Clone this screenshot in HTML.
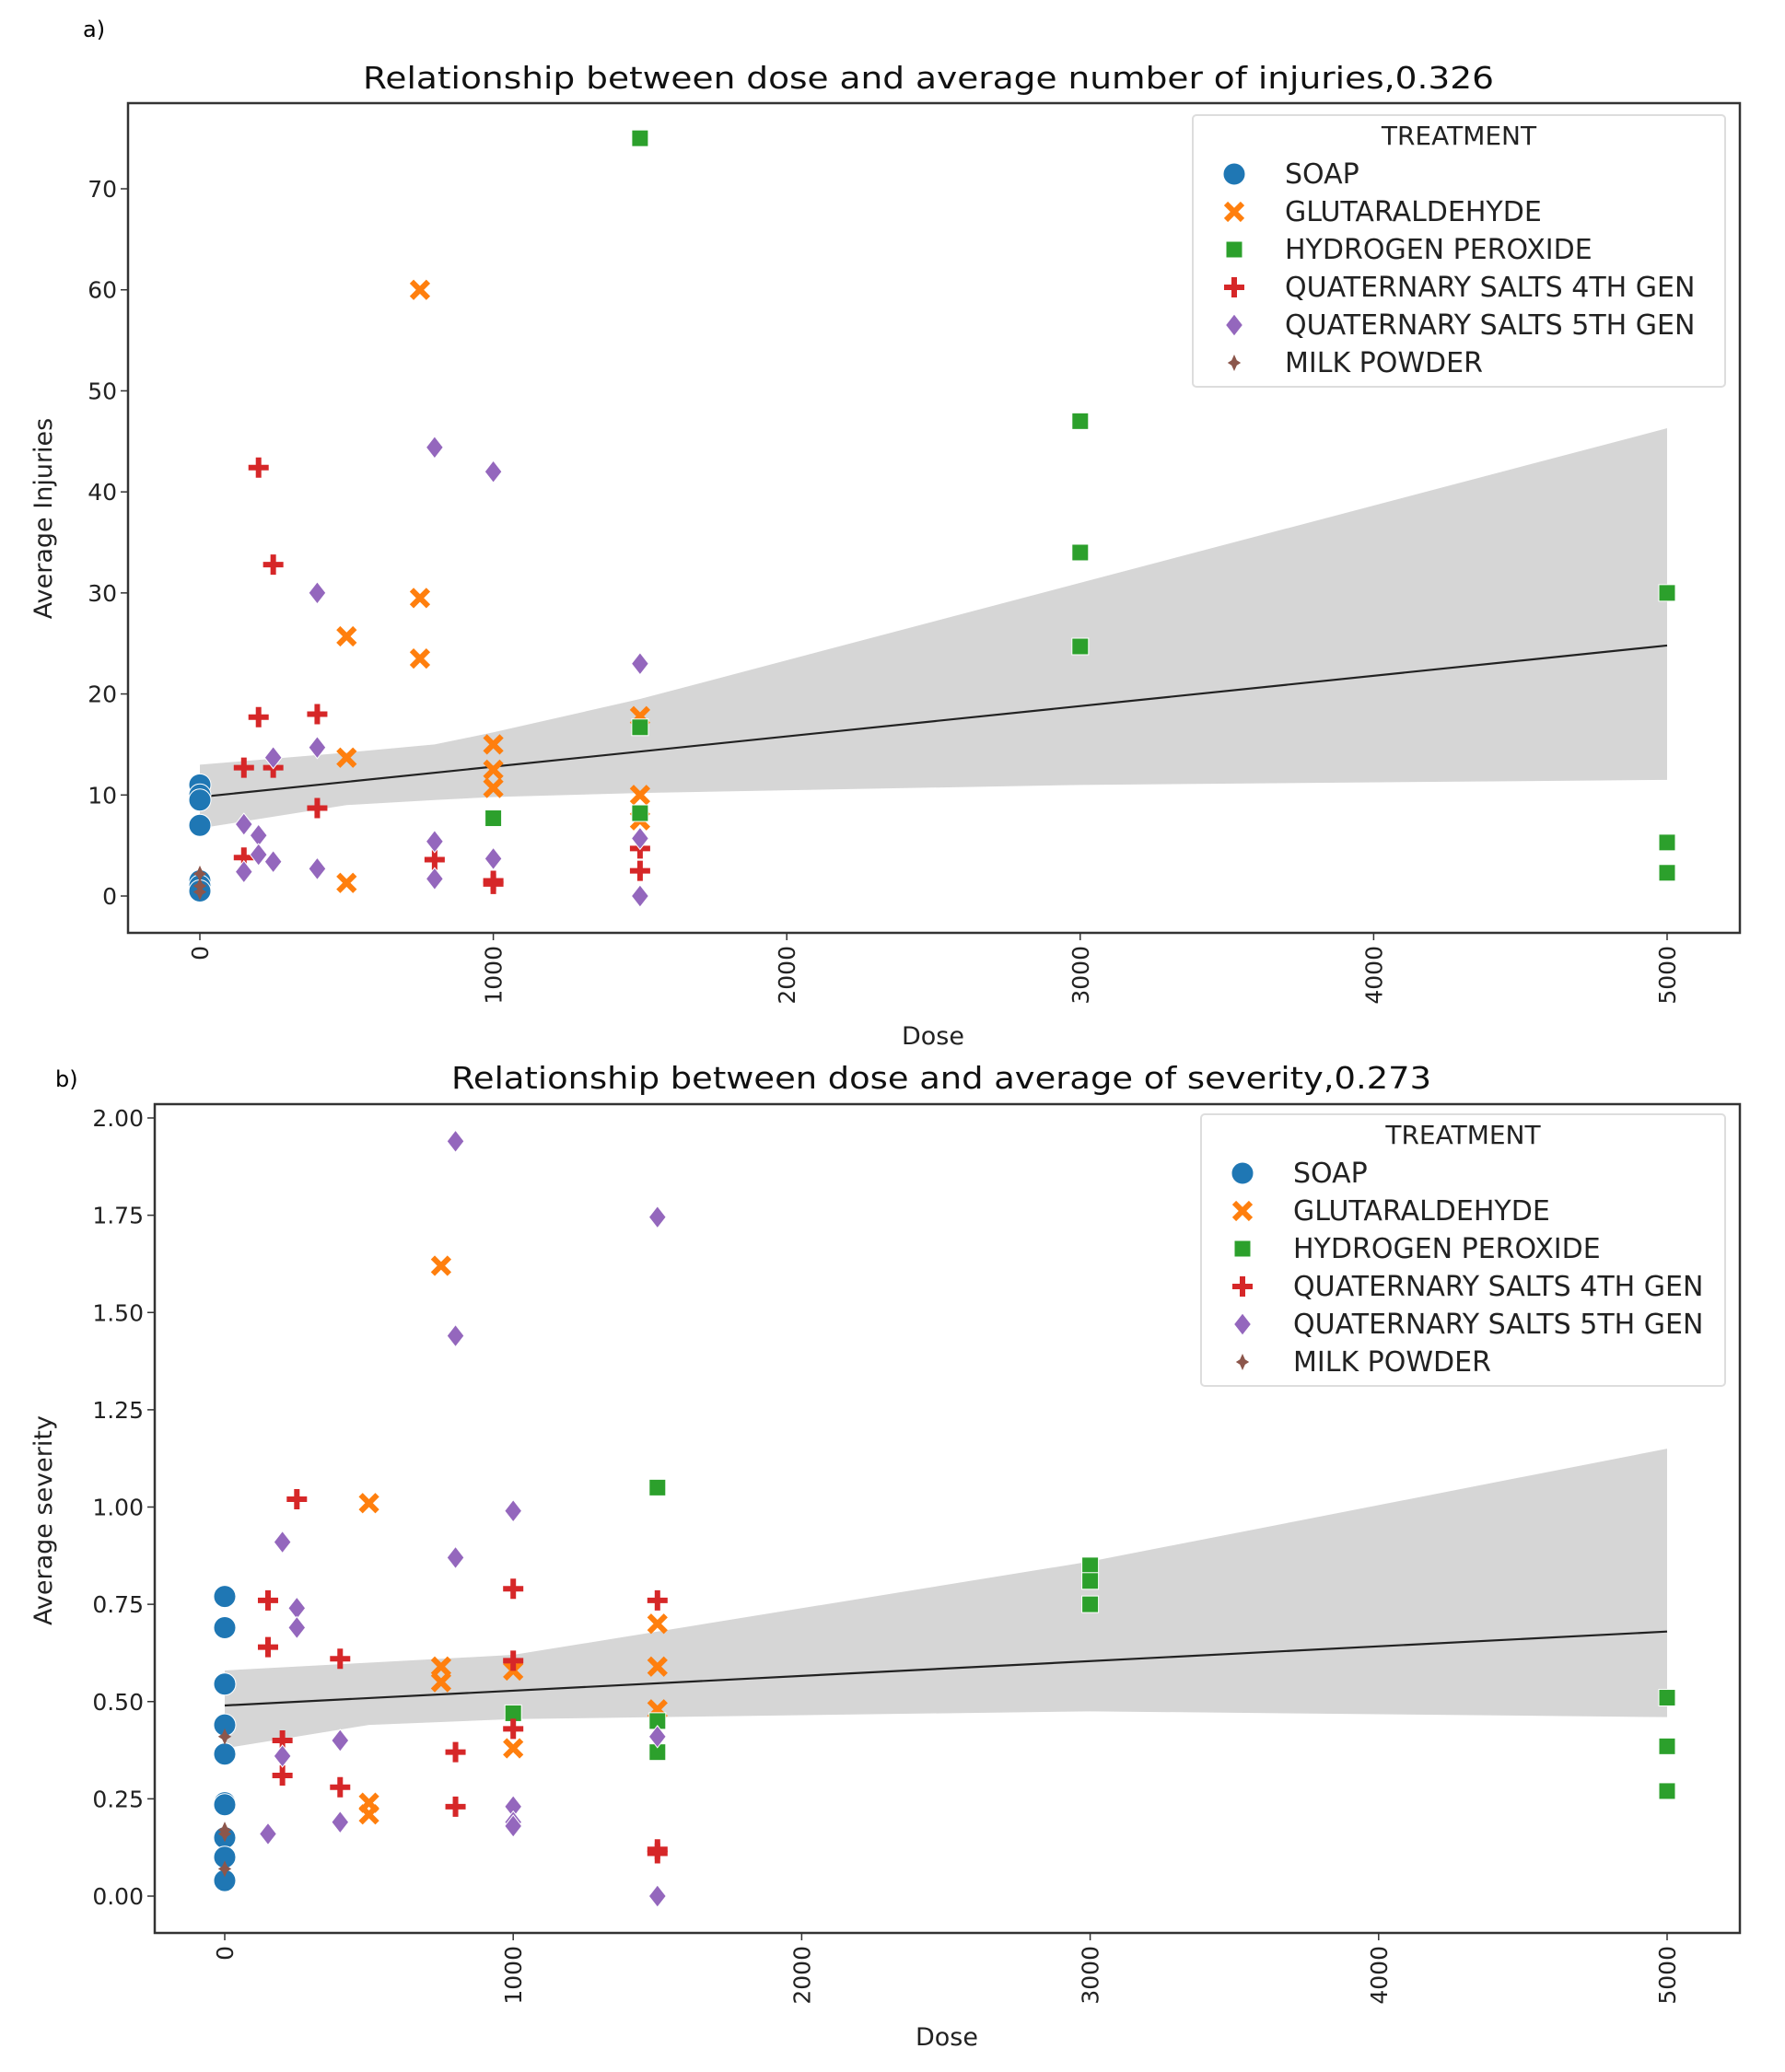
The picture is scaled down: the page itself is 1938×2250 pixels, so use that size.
<!DOCTYPE html>
<html><head><meta charset="utf-8"><style>
html,body{margin:0;padding:0;background:#fff;}
svg{display:block;font-family:"DejaVu Sans","Liberation Sans",sans-serif;}
</style></head><body>
<svg id="chart" width="1938" height="2250" viewBox="0 0 1938 2250" xmlns="http://www.w3.org/2000/svg">
<rect width="1938" height="2250" fill="#fff"/>
<text x="90" y="40" font-size="24">a)</text>
<text x="60" y="1180" font-size="24">b)</text>
<g id="pa"></g><g id="pb"></g>
</svg>
<script>
// ---- Panel A data ----
const aSoapY=[11,10,9.5,7,1.5,1,0.5];
const aGlutX=[750,750,750,500,500,500,1000,1000,1000,1500,1500,1500];
const aGlutY=[60,29.5,23.5,25.7,13.7,1.3,15,12.5,10.7,17.8,10,7.5];
const aH2X=[1500,1500,1500,1000,3000,3000,3000,5000,5000,5000];
const aH2Y=[75,16.7,8.2,7.7,47,34,24.7,30,5.3,2.3];
const aQ4X=[200,250,200,400,150,250,400,150,800,1000,1000,1500,1500];
const aQ4Y=[42.4,32.8,17.7,18,12.7,12.7,8.7,3.8,3.6,1.5,1.2,2.5,4.7];
const aQ5X=[800,1000,400,1500,250,400,150,200,200,150,250,400,800,800,1000,1500,1500];
const aQ5Y=[44.4,42,30,23,13.7,14.7,7.1,6,4.1,2.4,3.4,2.7,5.4,1.7,3.7,5.7,0];
const aMilkY=[2.2,0.4,1];
const aFitX=[0,5000]; const aFitY=[9.8,24.8];
const aBandX=[0,500,800,1000,1500,3000,5000];
const aBandHi=[13,14.2,15,16.2,19.5,31,46.3];
const aBandLo=[6.7,9,9.5,9.8,10.2,11,11.5];
const aYTicks=[0,10,20,30,40,50,60,70];
// ---- Panel B data ----
const bSoapY=[0.77,0.69,0.545,0.44,0.365,0.24,0.235,0.15,0.1,0.04];
const bGlutX=[750,500,750,750,1000,1000,1500,1500,1500,500,500];
const bGlutY=[1.62,1.01,0.59,0.55,0.58,0.38,0.70,0.59,0.48,0.24,0.21];
const bH2X=[1500,3000,3000,3000,1000,1500,1500,5000,5000,5000];
const bH2Y=[1.05,0.85,0.81,0.75,0.47,0.45,0.37,0.51,0.385,0.27];
const bQ4X=[250,150,150,400,1000,1000,1500,200,200,400,800,800,1000,1500,1500];
const bQ4Y=[1.02,0.76,0.64,0.61,0.79,0.605,0.76,0.40,0.31,0.28,0.37,0.23,0.43,0.12,0.11];
const bQ5X=[800,1500,800,1000,200,800,250,250,400,200,150,400,1000,1000,1500,1500,1000];
const bQ5Y=[1.94,1.745,1.44,0.99,0.91,0.87,0.74,0.69,0.40,0.36,0.16,0.19,0.23,0.19,0.41,0,0.18];
const bMilkY=[0.41,0.17,0.16,0.07];
const bFitX=[0,5000]; const bFitY=[0.49,0.68];
const bBandX=[0,500,1000,1500,3000,5000];
const bBandHi=[0.58,0.6,0.62,0.68,0.86,1.15];
const bBandLo=[0.38,0.44,0.455,0.46,0.475,0.46];
const bYTicks=[0,0.25,0.5,0.75,1.0,1.25,1.5,1.75,2.0];
const xTicks=[0,1000,2000,3000,4000,5000];
const legendLabels=["SOAP","GLUTARALDEHYDE","HYDROGEN PEROXIDE","QUATERNARY SALTS 4TH GEN","QUATERNARY SALTS 5TH GEN","MILK POWDER"];
const colors=["#1f77b4","#ff7f0e","#2ca02c","#d62728","#9467bd","#8c564b"];
const NS="http://www.w3.org/2000/svg";
function mk(p,t,a){const e=document.createElementNS(NS,t);for(const k in a)e.setAttribute(k,a[k]);p.appendChild(e);return e;}
function marker(g,type,cx,cy,s,c){
  let e;
  if(type===0){e=mk(g,'circle',{cx:cx,cy:cy,r:12*s,fill:c,stroke:'#fff','stroke-width':1});}
  else if(type===1){const r=9*s;e=mk(g,'path',{d:`M${cx-r},${cy-r}L${cx+r},${cy+r}M${cx-r},${cy+r}L${cx+r},${cy-r}`,stroke:c,'stroke-width':6*s,fill:'none'});}
  else if(type===2){const r=9*s;e=mk(g,'rect',{x:cx-r,y:cy-r,width:2*r,height:2*r,fill:c,stroke:'#fff','stroke-width':1});}
  else if(type===3){const r=11*s;e=mk(g,'path',{d:`M${cx-r},${cy}L${cx+r},${cy}M${cx},${cy-r}L${cx},${cy+r}`,stroke:c,'stroke-width':6*s,fill:'none'});}
  else if(type===4){const r=12*s;e=mk(g,'path',{d:`M${cx},${cy-r}L${cx+r*0.78},${cy}L${cx},${cy+r}L${cx-r*0.78},${cy}Z`,fill:c,stroke:'#fff','stroke-width':1});}
  else {const r=9*s;e=mk(g,'path',{d:`M${cx},${cy-r}L${cx+2.8},${cy-2.8}L${cx+r*0.8},${cy}L${cx+2.8},${cy+2.8}L${cx},${cy+r}L${cx-2.8},${cy+2.8}L${cx-r*0.8},${cy}L${cx-2.8},${cy-2.8}Z`,fill:c});}
  return e;
}
function panel(gid,P,D){
  const g=document.getElementById(gid);
  const X=v=>P.x0+(P.x5-P.x0)*v/5000;
  const Y=v=>P.y0+(P.yT-P.y0)*v/P.yTop;
  let d='M'+D.bx.map((x,i)=>X(x)+','+Y(D.hi[i])).join('L');
  for(let i=D.bx.length-1;i>=0;i--)d+='L'+X(D.bx[i])+','+Y(D.lo[i]);
  const band=mk(g,'path',{d:d+'Z',fill:'#d6d6d6'});
  
  
  const fit=mk(g,'line',{x1:X(D.fx[0]),y1:Y(D.fy[0]),x2:X(D.fx[1]),y2:Y(D.fy[1]),stroke:'#222','stroke-width':2.2});
  
  
  const series=[[D.soap.map(()=>0),D.soap],[D.gx,D.gy],[D.hx,D.hy],[D.q4x,D.q4y],[D.q5x,D.q5y],[D.milk.map(()=>0),D.milk]];
  series.forEach((s,k)=>{
    s[0].forEach((x,i)=>{
      const m=marker(g,k,X(x),Y(s[1][i]),1,colors[k]);
      
      
    });
  });
  const fr=mk(g,'rect',{x:P.L,y:P.T,width:P.R-P.L,height:P.B-P.T,fill:'none',stroke:'#333','stroke-width':2.5});
  
  
  xTicks.forEach(t=>{
    mk(g,'line',{x1:X(t),x2:X(t),y1:P.B,y2:P.B+8,stroke:'#333','stroke-width':1.5});
    const tx=mk(g,'text',{x:0,y:0,'font-size':25,'text-anchor':'end',fill:'#222',transform:`translate(${X(t)+9},${P.B+14}) rotate(-90)`});
    tx.textContent=t;
    
    
  });
  D.yt.forEach(t=>{
    mk(g,'line',{x1:P.L-8,x2:P.L,y1:Y(t),y2:Y(t),stroke:'#333','stroke-width':1.5});
    const tx=mk(g,'text',{x:P.L-12,y:Y(t)+9,'font-size':25,'text-anchor':'end',fill:'#222'});
    tx.textContent=P.dec?t.toFixed(2):t;
    
    
  });
  const ti=mk(g,'text',{x:P.tx,y:P.ty,'font-size':33,'text-anchor':'middle',fill:'#111','textLength':P.tw,'lengthAdjust':'spacingAndGlyphs'});
  ti.textContent=P.title;
  
  
  const xl=mk(g,'text',{x:P.xlx,y:P.xly,'font-size':27,'text-anchor':'middle',fill:'#222'});
  xl.textContent='Dose';
  
  
  const yl=mk(g,'text',{x:0,y:0,'font-size':27,'text-anchor':'middle',fill:'#222',transform:`translate(56,${P.ylc}) rotate(-90)`});
  yl.textContent=P.ylab;
  
  
  const lg=mk(g,'g',{});
  
  
  mk(lg,'rect',{x:P.lx,y:P.ly,width:P.lw,height:295,fill:'#fff',stroke:'#ddd','stroke-width':2,rx:4});
  const lt=mk(lg,'text',{x:P.lx+P.lw/2,y:P.ly+32,'font-size':28,'text-anchor':'middle',fill:'#222'});
  lt.textContent='TREATMENT';
  legendLabels.forEach((l,k)=>{
    const yy=P.ly+64+k*41;
    const e=mk(lg,'g',{});
    
    
    marker(e,k,P.lx+45,yy,1,colors[k]);
    const t=mk(e,'text',{x:P.lx+100,y:yy+10,'font-size':30,fill:'#222'});
    t.textContent=l;
  });
}
panel('pa',{L:139,R:1889,T:112,B:1013,x0:217,x5:1810,y0:973,yT:205,yTop:70,title:'Relationship between dose and average number of injuries,0.326',tx:1008,ty:96,tw:1228,xlx:1013,xly:1134,ylab:'Average Injuries',ylc:563,lx:1295,ly:125,lw:578,dec:false},
 {bx:aBandX,hi:aBandHi,lo:aBandLo,fx:aFitX,fy:aFitY,soap:aSoapY,gx:aGlutX,gy:aGlutY,hx:aH2X,hy:aH2Y,q4x:aQ4X,q4y:aQ4Y,q5x:aQ5X,q5y:aQ5Y,milk:aMilkY,yt:aYTicks});
panel('pb',{L:168,R:1889,T:1199,B:2099,x0:244,x5:1810,y0:2059,yT:1214,yTop:2,title:'Relationship between dose and average of severity,0.273',tx:1022,ty:1182,tw:1064,xlx:1028,xly:2221,ylab:'Average severity',ylc:1651,lx:1304,ly:1210,lw:569,dec:true},
 {bx:bBandX,hi:bBandHi,lo:bBandLo,fx:bFitX,fy:bFitY,soap:bSoapY,gx:bGlutX,gy:bGlutY,hx:bH2X,hy:bH2Y,q4x:bQ4X,q4y:bQ4Y,q5x:bQ5X,q5y:bQ5Y,milk:bMilkY,yt:bYTicks});
</script>
</body></html>
